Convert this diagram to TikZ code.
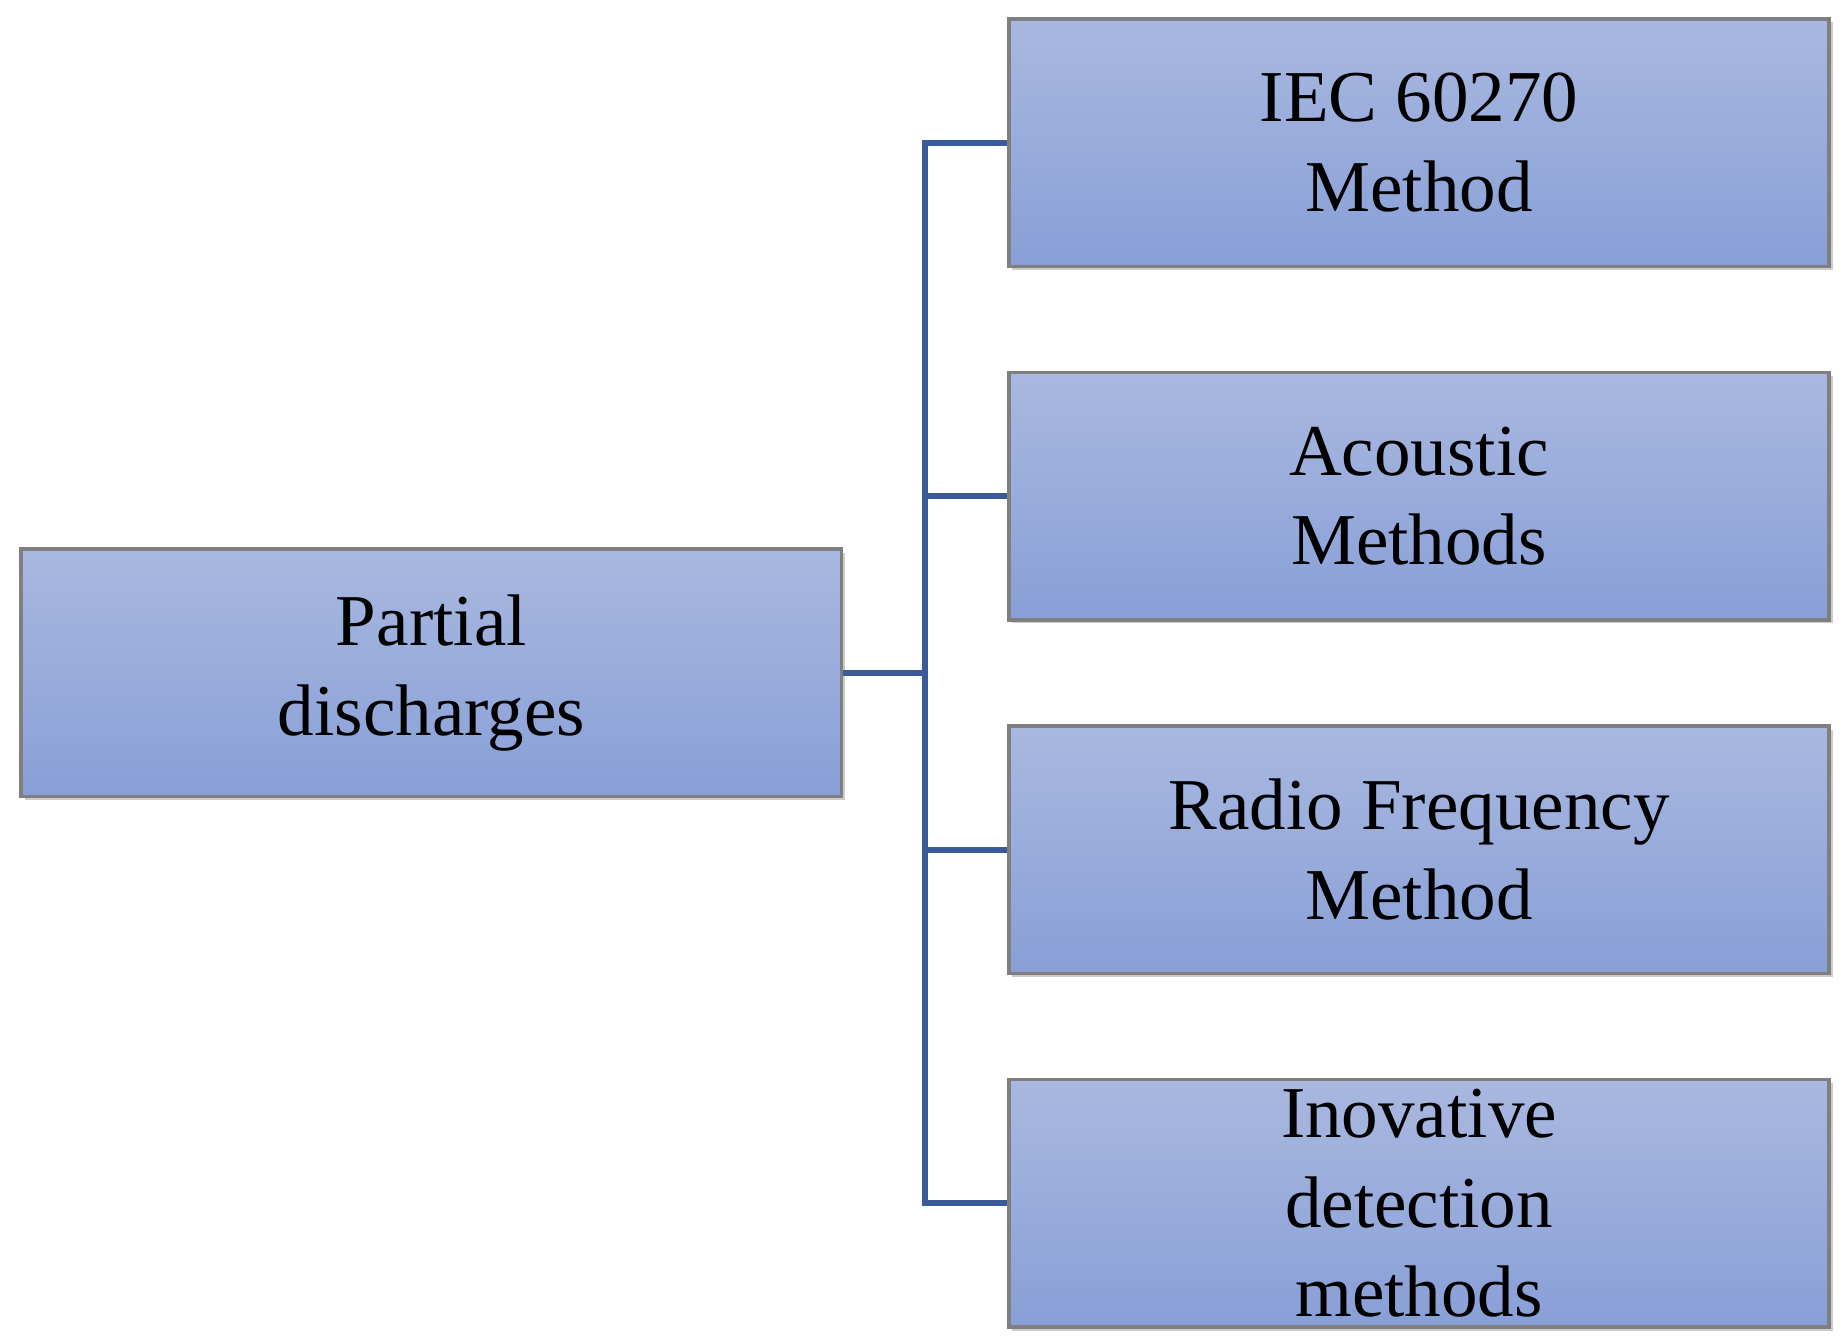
\documentclass[tikz,border=0pt]{standalone}
\usepackage{fontspec}
\setmainfont{Liberation Serif}
\usetikzlibrary{shadows}
\definecolor{topc}{HTML}{A9B8E0}
\definecolor{botc}{HTML}{889FD7}
\definecolor{edge}{HTML}{7F7F7F}
\definecolor{link}{HTML}{3A5A9C}
\begin{document}
\begin{tikzpicture}[x=0.5pt,y=-0.5pt,
  box/.style={draw=edge,line width=1.5pt,top color=topc,bottom color=botc,
    minimum width=348pt,minimum height=105pt,align=center,inner sep=0pt,
    font=\fontsize{31}{38}\selectfont,
    drop shadow={shadow xshift=1.5pt,shadow yshift=-1.5pt,fill=black!40,opacity=0.5}},
  conn/.style={draw=link,line width=2.5pt}]
\useasboundingbox (0,0) rectangle (1568,1140);
\node[box] (pd) at (366,571) {Partial\\discharges};
\node[box] (a) at (1204,121) {IEC 60270\\Method};
\node[box] (b) at (1204,421) {Acoustic\\Methods};
\node[box] (c) at (1204,721) {Radio Frequency\\Method};
\node[box] (d) at (1204,1021) {Inovative\\detection\\methods};
\coordinate (j) at (785,571);
\coordinate (ja) at (785,121);
\coordinate (jb) at (785,421);
\coordinate (jc) at (785,721);
\coordinate (jd) at (785,1021);
\draw[conn] (pd.east) -- (j);
\draw[conn] (a.west) -- (ja) -- (jd) -- (d.west);
\draw[conn] (jb) -- (b.west);
\draw[conn] (jc) -- (c.west);
\end{tikzpicture}
\end{document}
